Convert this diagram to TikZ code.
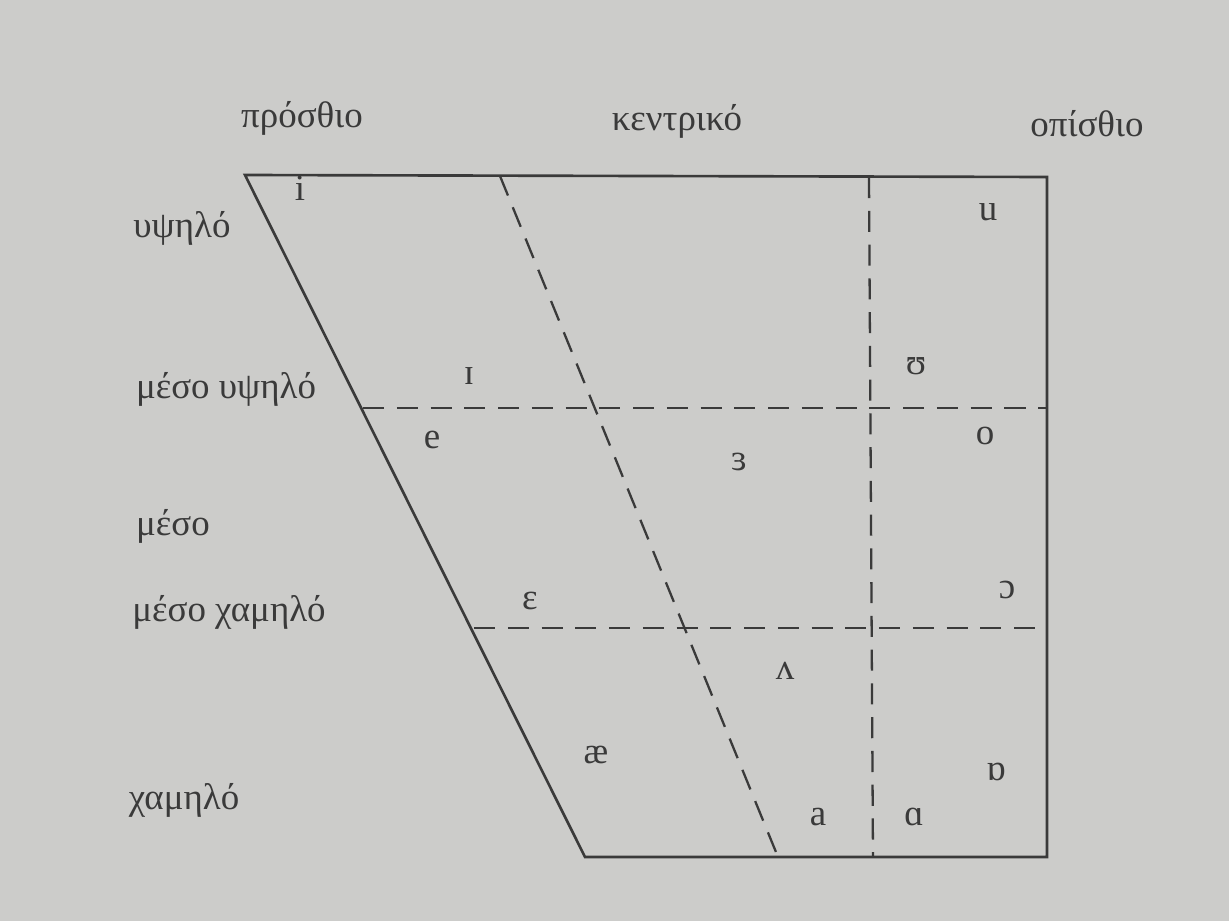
\documentclass[tikz,border=0pt]{standalone}
\usepackage{fontspec}
\setmainfont{Liberation Serif}
\usetikzlibrary{positioning}

\definecolor{paper}{RGB}{204,204,202}
\definecolor{ink}{RGB}{58,58,58}

\begin{document}
\begin{tikzpicture}[
        x=0.01cm, y=-0.01cm,
        edge/.style={draw=ink, line width=0.75pt},
        split/.style={draw=ink, line width=0.65pt, dash pattern=on 6pt off 3.6pt},
        vowel/.style={text=ink, font=\fontsize{10.5}{12}\selectfont, inner sep=0pt},
        heightlbl/.style={text=ink, font=\fontsize{10.5}{12}\selectfont, inner sep=0pt},
        backlbl/.style={text=ink, font=\fontsize{10.5}{12}\selectfont, inner sep=0pt}
    ]
    % background / page size
    \fill[paper] (0,0) rectangle (1229,921);
    \useasboundingbox (0,0) rectangle (1229,921);

    % corners of the chart
    \coordinate (tl) at (245,175);
    \coordinate (tr) at (1047,177);
    \coordinate (br) at (1047,857);
    \coordinate (bl) at (585,857);

    % ends of the dashed lines
    \coordinate (midhiL) at (363,408);
    \coordinate (midhiR) at (1047,408);
    \coordinate (midloL) at (474,628);
    \coordinate (midloR) at (1047,628);
    \coordinate (cenT) at (500,176);
    \coordinate (cenB) at (778,857);
    \coordinate (bakT) at (869,177);
    \coordinate (bakB) at (873,857);

    \draw[edge] (tl) -- (tr) -- (br) -- (bl) -- cycle;

    \draw[split] (midhiL) -- (midhiR);
    \draw[split] (midloL) -- (midloR);
    \draw[split] (cenT) -- (cenB);
    \draw[split] (bakT) -- (bakB);

    % column labels
    \node[backlbl] (front) at (302,118) {πρόσθιο};
    \node[backlbl] (central) at (677,121) {κεντρικό};
    \node[backlbl] (back) at (1087,124) {οπίσθιο};

    % row labels
    \node[heightlbl] (high) at (182,228) {υψηλό};
    \node[heightlbl] (midhigh) at (226,389) {μέσο υψηλό};
    \node[heightlbl] (mid) at (173,526) {μέσο};
    \node[heightlbl] (midlow) at (229,612) {μέσο χαμηλό};
    \node[heightlbl] (low) at (184,800) {χαμηλό};

    % vowels
    \node[vowel] (vi) at (300,188) {i};
    \node[vowel] (vu) at (988,212) {u};
    \node[vowel] (vI) at (469,376) {ɪ};
    \node[vowel] (vU) at (916,366) {ʊ};
    \node[vowel] (ve) at (432,440) {e};
    \node[vowel] (vo) at (985,436) {o};
    \node[vowel] (v3) at (739,462) {ɜ};
    \node[vowel] (vE) at (530,601) {ɛ};
    \node[vowel] (vO) at (1007,590) {ɔ};
    \node[vowel] (vV) at (785,671) {ʌ};
    \node[vowel] (vae) at (596,755) {æ};
    \node[vowel] (vQ) at (996,772) {ɒ};
    \node[vowel] (va) at (818,817) {a};
    \node[vowel] (vA) at (914,817) {ɑ};
\end{tikzpicture}
\end{document}
